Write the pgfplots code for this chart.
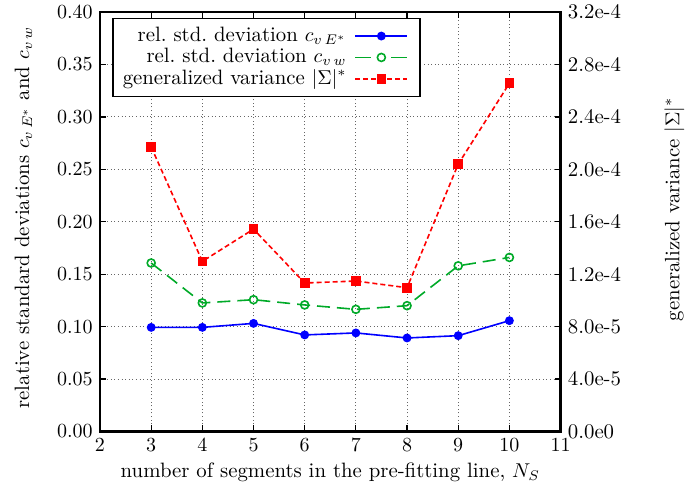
\documentclass[border=0pt]{standalone}
\usepackage{pgfplots}
\pgfplotsset{compat=1.18}

\definecolor{serblue}{RGB}{0,0,255}
\definecolor{sergreen}{RGB}{0,170,40}
\definecolor{serred}{RGB}{255,0,0}

\pgfplotsset{
  frame/.style={
    scale only axis, width=230.3pt, height=209.7pt,
    xmin=2, xmax=11,
    tick align=inside, major tick length=3pt,
    every tick/.style={black, line width=0.6pt},
    axis line style={line width=1.3pt},
  }
}

\begin{document}
\fontsize{10.4}{12.5}\selectfont
\begin{tikzpicture}
\begin{axis}[
  frame,
  ymin=0, ymax=0.4,
  xtick={2,3,4,5,6,7,8,9,10,11},
  ytick={0,0.05,0.10,0.15,0.20,0.25,0.30,0.35,0.40},
  xtick pos=both, ytick pos=left,
  yticklabel style={/pgf/number format/.cd, fixed, fixed zerofill, precision=2},
  grid=major,
  major grid style={gray!80!black, line width=0.5pt, dash pattern=on 0.5pt off 1.3pt},
  xlabel={number of segments in the pre-fitting line, $N_S$},
  ylabel={relative standard deviations $c_{v\,E^*}$ and $c_{v\,w}$},
  xlabel style={at={(axis description cs:0.5,-0.098)}, anchor=center},
  ylabel style={at={(axis description cs:-0.154,0.51)}, anchor=base},
  legend style={at={(axis description cs:0.026,0.987)}, anchor=north west,
    draw=black, line width=0.8pt, fill=white,
    inner xsep=5pt, inner ysep=3.5pt, column sep=4pt, row sep=0pt,
    legend cell align=right,
    nodes={inner sep=0pt, text height=8pt, text depth=2.7pt}},
  legend plot pos=right,
  legend image code/.code={
    \draw[mark repeat=2, mark phase=2] plot coordinates {(0pt,0pt) (13pt,0pt) (26pt,0pt)};
    \path (27pt,0pt);},
]
% legend samples
\addlegendimage{serblue, line width=0.8pt, mark=*, mark size=1.8pt, mark options={solid}}
\addlegendentry{rel.\ std.\ deviation $c_{v\,E^*}$}
\addlegendimage{sergreen, line width=0.8pt, dash pattern=on 8pt off 10pt, mark=o, mark size=2pt, mark options={solid, line width=0.8pt}}
\addlegendentry{rel.\ std.\ deviation $c_{v\,w}$}
\addlegendimage{serred, line width=0.8pt, dash pattern=on 2.5pt off 1.5pt, mark=square*, mark size=2pt, mark options={solid}}
\addlegendentry{generalized variance $|\Sigma|^*$}

\addplot[forget plot, serblue, line width=0.8pt, mark=*, mark size=1.8pt, mark options={solid}]
  coordinates {(3,0.0993) (4,0.0993) (5,0.1031) (6,0.0921) (7,0.0940) (8,0.0892) (9,0.0914) (10,0.1057)};
\addplot[forget plot, sergreen, line width=0.8pt, dash pattern=on 6.5pt off 3.5pt, mark=o, mark size=2pt, mark options={solid, line width=0.8pt}]
  coordinates {(3,0.1607) (4,0.1226) (5,0.1257) (6,0.1207) (7,0.1165) (8,0.1200) (9,0.1580) (10,0.1660)};
\end{axis}

\begin{axis}[
  frame,
  ymin=0, ymax=3.2e-4,
  axis y line*=right, axis x line=none,
  ytick pos=right,
  scaled y ticks=false,
  ytick={0,0.00004,0.00008,0.00012,0.00016,0.0002,0.00024,0.00028,0.00032},
  yticklabels={0.0e0,4.0e-5,8.0e-5,1.2e-4,1.6e-4,2.0e-4,2.4e-4,2.8e-4,3.2e-4},
  ylabel={generalized variance $|\Sigma|^*$},
  ylabel style={at={(axis description cs:1.258,0.53)}, anchor=base, rotate=0},
]
\addplot[serred, line width=0.8pt, dash pattern=on 2.5pt off 1.5pt, mark=square*, mark size=2pt, mark options={solid}]
  coordinates {(3,2.171e-4) (4,1.298e-4) (5,1.544e-4) (6,1.133e-4) (7,1.148e-4) (8,1.097e-4) (9,2.040e-4) (10,2.657e-4)};
\end{axis}
\pgfresetboundingbox
\path (-50pt,-32pt) rectangle (294.5pt,215.75pt);
\end{tikzpicture}
\end{document}
